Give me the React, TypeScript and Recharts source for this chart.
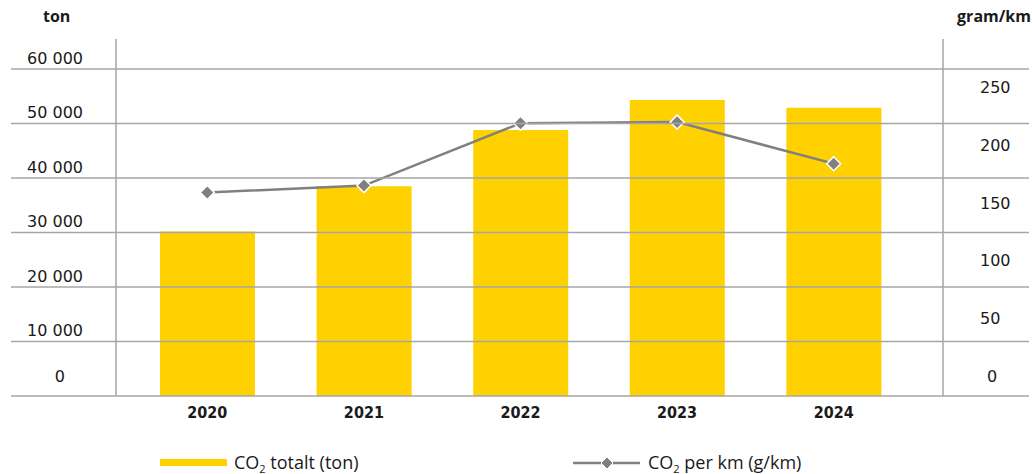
import React from 'react';
import {
  ComposedChart, Bar, Line, XAxis, YAxis, CartesianGrid, Legend,
} from 'recharts';

const years = ['2020', '2021', '2022', '2023', '2024'];
const co2Total = [30200, 38500, 48800, 54300, 52900];
const co2PerKm = [159, 165, 219, 220, 184];
const leftTicks = [0, 10000, 20000, 30000, 40000, 50000, 60000];
const rightTicks = [0, 50, 100, 150, 200, 250];

const data = years.map((y, i) => ({ year: y, total: co2Total[i], perKm: co2PerKm[i] }));

const GRID = '#a6a6a6';
const YELLOW = '#FFD100';
const GREY = '#808080';
const TXT = '#1a1a1a';
const PLOT_LEFT = 116;
const PLOT_RIGHT = 943;

const fmt = (v: number) => String(v).replace(/\B(?=(\d{3})+(?!\d))/g, ' ');

const LeftTick = (props: any) => {
  const { y, payload } = props;
  const zero = payload.value === 0;
  return (
    <g>
      <line x1={11} x2={PLOT_RIGHT + 86} y1={y} y2={y} stroke={GRID} strokeWidth={1.5} />
      <text
        x={zero ? 65 : 83}
        y={y + (zero ? -20 : -11)}
        dy="0.355em"
        textAnchor="end"
        fontFamily="DejaVu Sans"
        fontSize={16}
        fill={TXT}
      >
        {fmt(payload.value)}
      </text>
    </g>
  );
};

const RightTick = (props: any) => {
  const { y, payload } = props;
  const zero = payload.value === 0;
  return (
    <text
      x={zero ? 987 : 980}
      y={y}
      dy="0.355em"
      textAnchor="start"
      fontFamily="DejaVu Sans"
      fontSize={16}
      fill={TXT}
    >
      {payload.value}
    </text>
  );
};

const XTick = (props: any) => {
  const { x, y, payload } = props;
  return (
    <text
      x={x}
      y={y}
      dy="0.71em"
      textAnchor="middle"
      fontFamily="'DejaVu Sans Condensed', 'Liberation Sans Narrow', 'DejaVu Sans'"
      fontWeight="bold"
      fontSize={16}
      fill={TXT}
    >
      {payload.value}
    </text>
  );
};

const Diamond = (props: any) => {
  const { cx, cy, index } = props;
  if (cx == null || cy == null) return <g key={`d${index}`} />;
  const r = 7;
  return (
    <path
      key={`d${index}`}
      d={`M${cx},${cy - r}L${cx + r},${cy}L${cx},${cy + r}L${cx - r},${cy}Z`}
      fill={GREY}
      stroke="#ffffff"
      strokeWidth={1.5}
    />
  );
};

const subStyle: React.CSSProperties = { fontSize: 11, verticalAlign: '-4px', lineHeight: 0 };

const LegendContent = () => (
  <div style={{ position: 'relative', height: 30, width: 1032, fontFamily: "'Open Sans', sans-serif", fontSize: 18, fontWeight: 500, color: TXT }}>
    <div style={{ position: 'absolute', left: 160, top: 15, width: 67, height: 7, background: YELLOW }} />
    <div style={{ position: 'absolute', left: 234, top: 7, lineHeight: '22px', whiteSpace: 'nowrap' }}>
      CO<sub style={subStyle}>2</sub> totalt (ton)
    </div>
    <svg style={{ position: 'absolute', left: 570, top: 8 }} width={74} height={22}>
      <line x1={3} x2={70} y1={11} y2={11} stroke={GREY} strokeWidth={2.5} />
      <path d="M37,5L43,11L37,17L31,11Z" fill={GREY} stroke="#fff" strokeWidth={1} />
    </svg>
    <div style={{ position: 'absolute', left: 648, top: 7, lineHeight: '22px', whiteSpace: 'nowrap' }}>
      CO<sub style={subStyle}>2</sub> per km (g/km)
    </div>
  </div>
);

export default function App() {
  return (
    <div style={{ position: 'absolute', left: 0, top: 0, width: 1032, height: 474, background: '#fff', fontFamily: "'DejaVu Sans', sans-serif" }}>
      <ComposedChart
        width={1032}
        height={474}
        data={data}
        margin={{ top: 39, right: 0, bottom: 0, left: 0 }}
      >
        <CartesianGrid yAxisId="left" vertical={false} horizontal={false} />
        <XAxis
          dataKey="year"
          type="category"
          height={48}
          axisLine={false}
          tickLine={false}
          tickMargin={5}
          padding={{ left: 13, right: 31 }}
          tick={<XTick />}
          interval={0}
        />
        <YAxis
          yAxisId="left"
          orientation="left"
          width={116}
          domain={[0, 65500]}
          ticks={leftTicks}
          interval={0}
          axisLine={{ stroke: GRID, strokeWidth: 1.5 }}
          tickLine={false}
          tick={<LeftTick />}
          label={{
            content: () => (
              <text x={43} y={16} dy="0.355em" fontFamily="'Open Sans', sans-serif" fontWeight="bold" fontSize={16} fill={TXT}>
                ton
              </text>
            ),
          }}
        />
        <YAxis
          yAxisId="right"
          orientation="right"
          width={89}
          domain={[-17.3, 292]}
          ticks={rightTicks}
          interval={0}
          allowDataOverflow
          axisLine={{ stroke: GRID, strokeWidth: 1.5 }}
          tickLine={false}
          tick={<RightTick />}
          label={{
            content: () => (
              <text x={1031} y={16} dy="0.355em" textAnchor="end" fontFamily="'Open Sans', sans-serif" fontWeight="bold" fontSize={16} fill={TXT}>
                gram/km
              </text>
            ),
          }}
        />
        <Bar yAxisId="left" dataKey="total" name="CO2 totalt (ton)" fill={YELLOW} barSize={95} isAnimationActive={false} />
        <Line
          yAxisId="right"
          dataKey="perKm"
          name="CO2 per km (g/km)"
          stroke={GREY}
          strokeWidth={2.5}
          dot={Diamond}
          activeDot={false}
          isAnimationActive={false}
        />
        <Legend verticalAlign="bottom" wrapperStyle={{ height: 30, left: 0, bottom: 0 }} content={() => <LegendContent />} />
      </ComposedChart>
    </div>
  );
}
